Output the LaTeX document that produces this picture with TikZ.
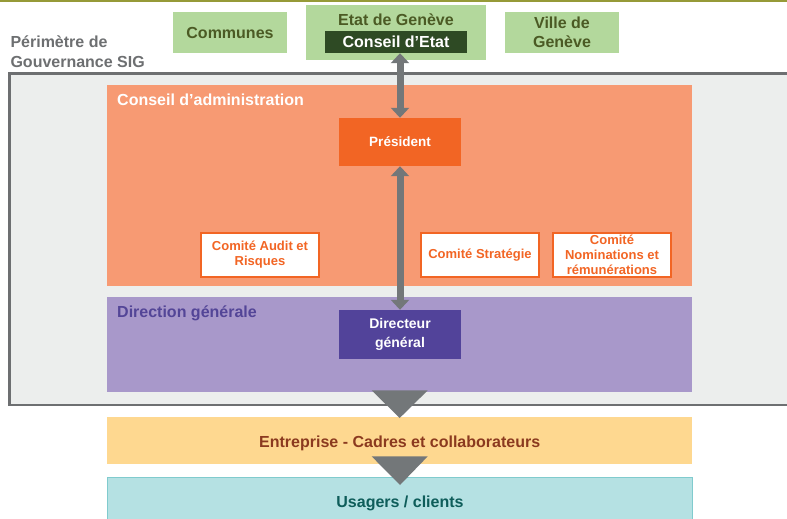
\documentclass[tikz,border=0pt]{standalone}
\usepackage{fontspec}
\setmainfont{Liberation Sans}
\usepackage{xcolor}
\usetikzlibrary{arrows.meta,calc,positioning}
\definecolor{olivebar}{HTML}{969A38}
\definecolor{perifill}{HTML}{ECEEED}
\definecolor{perigrey}{HTML}{6D6F71}
\definecolor{govgreen}{HTML}{B3D89C}
\definecolor{govtext}{HTML}{4B5A24}
\definecolor{govdark}{HTML}{2E4A24}
\definecolor{salmon}{HTML}{F79A73}
\definecolor{sigorange}{HTML}{F26524}
\definecolor{lavender}{HTML}{A898CA}
\definecolor{dirtext}{HTML}{534597}
\definecolor{dirdark}{HTML}{52439A}
\definecolor{arrowgrey}{HTML}{737779}
\definecolor{entfill}{HTML}{FED890}
\definecolor{enttext}{HTML}{8B3A1F}
\definecolor{usafill}{HTML}{B5E1E3}
\definecolor{usaline}{HTML}{80CBCE}
\definecolor{usatext}{HTML}{0E5D5A}
\tikzset{>=latex}
\tikzset{
  big/.style={font=\fontsize{16}{19}\selectfont\bfseries},
  small/.style={font=\fontsize{13}{15}\selectfont\bfseries},
  zone/.style={rectangle,inner sep=0pt,anchor=north west,minimum width=585},
  govbox/.style={rectangle,fill=govgreen,inner sep=0pt,text=govtext,big,align=center},
  headbox/.style={rectangle,inner sep=0pt,text=white,align=center,minimum width=122},
  comite/.style={rectangle,fill=white,draw=sigorange,line width=2pt,inner sep=0pt,
    text=sigorange,small,align=center,minimum width=118,minimum height=44},
  dblarrow/.style={arrowgrey,line width=7pt,
    {Triangle[width=18pt,length=10pt]}-{Triangle[width=18pt,length=10pt]}},
  bigtri/.style={fill=arrowgrey}
}

\begin{document}
\begin{tikzpicture}[x=1pt,y=-1pt]
  \clip (0,0) rectangle (787,519);
  \fill[olivebar] (0,0) rectangle (787,2.5);
  % Perimetre
  \node[rectangle,draw=perigrey,fill=perifill,line width=2.5pt,inner sep=0pt,anchor=north west,
    minimum width=800,minimum height=331] (peri) at (8,72.5) {};
  \node[text=perigrey,anchor=west,align=left,font=\fontsize{16}{20}\selectfont\bfseries]
    (perilbl) at (7,52) {Périmètre de\\Gouvernance SIG};
  % Actionnaires
  \node[govbox,minimum width=114,minimum height=41] (communes) at (230,32.5) {Communes};
  \node[govbox,minimum width=180,minimum height=55,anchor=north west] (etat) at (306,5) {};
  \node[big,text=govtext] (etatlbl) at (396,20) {Etat de Genève};
  \node[rectangle,fill=govdark,text=white,big,inner sep=0pt,minimum width=142,minimum height=22]
    (ced) at (396,42) {Conseil d’Etat};
  \node[govbox,minimum width=114,minimum height=41] (ville) at (562,32.5) {Ville de\\Genève};
  % Conseil
  \node[zone,fill=salmon,minimum height=201] (cadm) at (107,85) {};
  \node[big,text=white,anchor=west,inner sep=0pt] (cadmlbl) at (117,100) {Conseil d’administration};
  \node[headbox,fill=sigorange,minimum height=48,font=\fontsize{13.5}{17}\selectfont\bfseries]
    (pres) at (400,142) {Président};
  \node[comite] (audit) at (260,255) {Comité Audit et\\Risques};
  \node[comite] (strat) at (480,255) {Comité Stratégie};
  \node[comite] (nomin) at (612,255) {Comité\\Nominations et\\rémunérations};
  % Direction
  \node[zone,fill=lavender,minimum height=95] (dirg) at (107,297) {};
  \node[big,text=dirtext,anchor=west,inner sep=0pt] (dirglbl) at (117,313) {Direction générale};
  \node[headbox,fill=dirdark,minimum height=49,font=\fontsize{14}{19}\selectfont\bfseries]
    (dg) at (400,334.5) {Directeur\\général};
  % Entreprise et usagers
  \node[zone,fill=entfill,minimum height=47] (ent) at (107,417) {};
  \node[big,text=enttext] (entlbl) at ($(ent.center)+(0,2.5)$) {Entreprise - Cadres et collaborateurs};
  \node[zone,fill=usafill,draw=usaline,line width=1pt,minimum height=48]
    (usa) at (107,477) {};
  \node[big,text=usatext] (usalbl) at ($(usa.center)+(0,2)$) {Usagers / clients};
  % Lines
  \draw[dblarrow] (ced.south -| pres.north) -- (pres.north);
  \draw[dblarrow] (pres.south) -- (dg.north);
  \fill[bigtri] ($(dirg.south)+(-28,-2)$) -- ($(dirg.south)+(28,-2)$) -- ($(ent.north)+(0,1)$) -- cycle;
  \fill[bigtri] ($(ent.south)+(-28,-8)$) -- ($(ent.south)+(28,-8)$) -- ($(usa.north)+(0,8)$) -- cycle;
\end{tikzpicture}
\end{document}
